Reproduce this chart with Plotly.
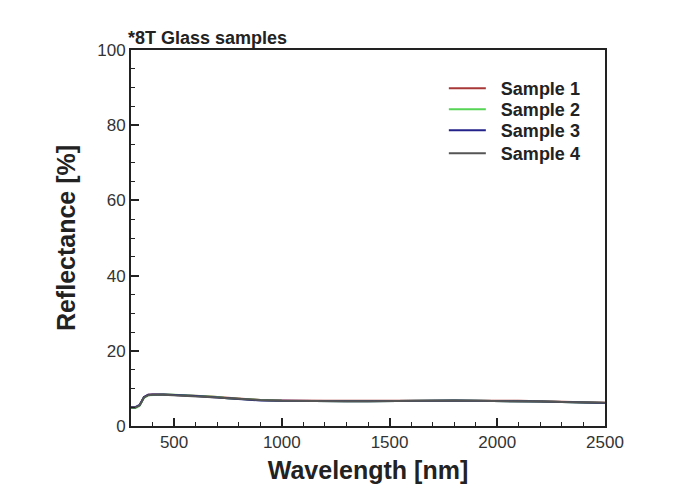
import plotly.graph_objects as go

wavelength = [300, 320, 340, 360, 380, 400, 450, 500, 550, 600, 650, 700, 750, 800, 850, 900,
              1000, 1100, 1200, 1300, 1400, 1500, 1600, 1700, 1800, 1900, 2000, 2100, 2200, 2300, 2400, 2500]
sample1 = [4.9, 4.9, 5.5, 7.6, 8.3, 8.4, 8.4, 8.3, 8.2, 8.1, 7.9, 7.7, 7.5, 7.3, 7.1, 6.9,
           6.8, 6.7, 6.7, 6.7, 6.7, 6.8, 6.9, 6.9, 6.9, 6.8, 6.8, 6.7, 6.6, 6.5, 6.4, 6.2]
sample2 = [4.8, 4.8, 5.4, 7.5, 8.2, 8.3, 8.4, 8.3, 8.2, 8.1, 7.9, 7.7, 7.4, 7.2, 7.0, 6.9,
           6.7, 6.6, 6.6, 6.6, 6.6, 6.7, 6.8, 6.8, 6.8, 6.7, 6.7, 6.6, 6.5, 6.4, 6.3, 6.1]
sample3 = [5.0, 5.0, 5.6, 7.7, 8.3, 8.4, 8.4, 8.3, 8.2, 8.0, 7.8, 7.6, 7.4, 7.2, 7.0, 6.8,
           6.7, 6.6, 6.6, 6.6, 6.6, 6.7, 6.8, 6.8, 6.8, 6.7, 6.7, 6.6, 6.5, 6.4, 6.3, 6.1]
sample4 = [4.9, 4.9, 5.5, 7.6, 8.2, 8.3, 8.3, 8.2, 8.1, 8.0, 7.8, 7.6, 7.4, 7.2, 7.0, 6.9,
           6.7, 6.6, 6.6, 6.6, 6.6, 6.7, 6.8, 6.8, 6.8, 6.7, 6.7, 6.6, 6.5, 6.4, 6.3, 6.2]

names = ["Sample 1", "Sample 2", "Sample 3", "Sample 4"]
colors = ["#a83838", "#55d455", "#22228a", "#555555"]
legend_ids = ["legend", "legend2", "legend3", "legend4"]
legend_y = [0.947, 0.891, 0.835, 0.774]

fig = go.Figure()
for name, ys, c, lg in zip(names, [sample1, sample2, sample3, sample4], colors, legend_ids):
    fig.add_trace(go.Scatter(x=wavelength, y=ys, mode="lines",
                             name="&nbsp;&nbsp;<b>" + name + "</b>",
                             line=dict(color=c, width=2), legend=lg))

axis_common = dict(showgrid=False, zeroline=False, showline=True, linecolor="#222",
                   linewidth=2, mirror=True, ticks="inside", ticklen=8, tickwidth=2,
                   tickcolor="#222", tickfont=dict(family="Arial, Liberation Sans", size=17, color="#333"))

legend_style = dict(x=0.66, xanchor="left", yanchor="top", bgcolor="rgba(0,0,0,0)",
                    font=dict(family="Arial, Liberation Sans", size=18, color="#222"),
                    itemwidth=37)

fig.update_layout(
    width=677, height=502,
    margin=dict(l=123, r=80, t=42, b=84),
    paper_bgcolor="white", plot_bgcolor="white",
    font=dict(family="Arial, Liberation Sans", color="#222"),
    xaxis=dict(range=[300, 2500], tickvals=[500, 1000, 1500, 2000, 2500],
               minor=dict(dtick=100, tick0=0, ticks="inside", ticklen=4, tickcolor="#222", tickwidth=1),
               title=dict(text="<b>Wavelength [nm]</b>", font=dict(size=25, color="#222"), standoff=10),
               **axis_common),
    yaxis=dict(range=[0, 100], tickvals=[0, 20, 40, 60, 80, 100],
               minor=dict(dtick=5, ticks="inside", ticklen=4, tickcolor="#222", tickwidth=1),
               title=dict(text="<b>Reflectance [%]</b>", font=dict(size=25, color="#222"), standoff=14),
               **axis_common),
    legend=dict(y=legend_y[0], **legend_style),
    legend2=dict(y=legend_y[1], **legend_style),
    legend3=dict(y=legend_y[2], **legend_style),
    legend4=dict(y=legend_y[3], **legend_style),
    showlegend=True,
    annotations=[dict(text="<b>*8T Glass samples</b>", xref="paper", yref="paper",
                      x=-0.01, y=1.0, xanchor="left", yanchor="bottom", showarrow=False,
                      font=dict(size=18, color="#222"))],
)

fig.write_html("out.html")
